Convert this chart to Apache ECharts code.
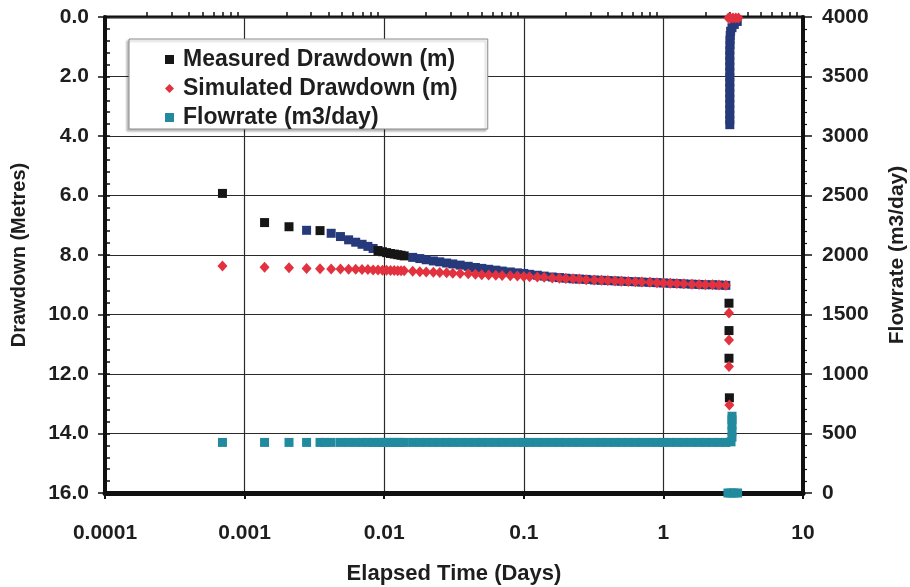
<!DOCTYPE html>
<html><head><meta charset="utf-8">
<script src="https://cdn.jsdelivr.net/npm/echarts@6/dist/echarts.min.js"></script>
<style>html,body{margin:0;padding:0;background:#fff}#c{width:910px;height:587px}</style>
</head><body><div id="c"></div><script>
// ---- tick labels ----
const xTickValues = [0.0001, 0.001, 0.01, 0.1, 1, 10];
const xTickLabels = ['0.0001', '0.001', '0.01', '0.1', '1', '10'];
const xMinorTicks = [0.0002,0.0003,0.0004,0.0005,0.0006,0.0007,0.0008,0.0009,
  0.002,0.003,0.004,0.005,0.006,0.007,0.008,0.009,
  0.02,0.03,0.04,0.05,0.06,0.07,0.08,0.09,
  0.2,0.3,0.4,0.5,0.6,0.7,0.8,0.9,
  2,3,4,5,6,7,8,9];
const leftTickLabels = ['0.0','2.0','4.0','6.0','8.0','10.0','12.0','14.0','16.0'];
const rightTickLabels = ['0','500','1000','1500','2000','2500','3000','3500','4000'];

// ---- series values: [elapsed time (days), value] ----
const measuredBlack = [
  [0.000694,5.93],[0.00139,6.91],[0.00208,7.05],[0.00347,7.18],
  [0.00903,7.85],[0.00972,7.89],[0.0104,7.92],[0.0111,7.95],[0.0118,7.97],[0.0125,7.99],[0.0132,8.01],[0.0139,8.03],
  [2.95,9.62],[2.95,10.54],[2.95,11.47],[2.97,12.8]
];
const measuredNavy = [
  [0.00278,7.17],[0.00417,7.27],[0.00486,7.38],[0.00556,7.49],[0.00625,7.57],[0.00694,7.64],[0.00764,7.71],[0.00833,7.78],
  [0.016,8.08],[0.018,8.12],[0.02,8.16],[0.0225,8.2],[0.025,8.23],[0.028,8.27],[0.031,8.3],[0.035,8.34],[0.04,8.38],
  [0.045,8.42],[0.05,8.45],[0.056,8.48],[0.063,8.51],[0.07,8.54],[0.08,8.57],[0.09,8.6],[0.1,8.62],[0.11,8.65],
  [0.125,8.68],[0.14,8.71],[0.16,8.74],[0.18,8.76],[0.2,8.78],[0.225,8.8],[0.25,8.81],[0.28,8.82],[0.32,8.84],
  [0.36,8.85],[0.4,8.86],[0.45,8.87],[0.5,8.88],[0.56,8.89],[0.63,8.9],[0.7,8.91],[0.8,8.92],[0.9,8.93],[1.0,8.94],
  [1.12,8.95],[1.25,8.96],[1.4,8.97],[1.6,8.98],[1.8,8.99],[2.0,9.0],[2.25,9.0],[2.5,9.01],[2.8,9.02],
  [2.99,3.62],[2.99,3.45],[2.99,3.28],[2.99,3.1],[2.99,2.92],[2.99,2.74],[2.99,2.56],[2.99,2.38],[2.99,2.2],
  [2.99,2.02],[2.99,1.84],[2.99,1.66],[2.99,1.48],[2.99,1.3],[2.99,1.12],[3.0,0.94],[3.0,0.78],[3.01,0.62],
  [3.03,0.48],[3.1,0.36],[3.22,0.25],[3.38,0.15]
];
const simulated = [
  [0.000694,8.37],[0.00139,8.41],[0.00208,8.43],[0.00278,8.45],[0.00347,8.46],[0.00417,8.47],[0.00486,8.47],
  [0.00556,8.48],[0.00625,8.48],[0.00694,8.49],[0.00764,8.49],[0.00833,8.5],[0.00903,8.5],[0.00972,8.51],
  [0.0104,8.51],[0.0111,8.52],[0.0118,8.52],[0.0125,8.53],[0.0132,8.53],[0.0139,8.53],[0.016,8.55],[0.018,8.56],
  [0.02,8.57],[0.0225,8.58],[0.025,8.59],[0.028,8.6],[0.031,8.61],[0.035,8.62],[0.04,8.63],[0.045,8.65],[0.05,8.66],
  [0.056,8.67],[0.063,8.68],[0.07,8.69],[0.08,8.7],[0.09,8.71],[0.1,8.72],[0.11,8.73],[0.125,8.74],[0.14,8.75],
  [0.16,8.77],[0.18,8.78],[0.2,8.79],[0.225,8.8],[0.25,8.81],[0.28,8.83],[0.32,8.84],[0.36,8.85],[0.4,8.86],
  [0.45,8.87],[0.5,8.88],[0.56,8.89],[0.63,8.9],[0.7,8.91],[0.8,8.92],[0.9,8.93],[1.0,8.94],[1.12,8.95],[1.25,8.96],
  [1.4,8.97],[1.6,8.98],[1.8,8.99],[2.0,9.0],[2.25,9.0],[2.5,9.01],[2.8,9.02],
  [2.95,9.95],[2.95,10.86],[2.95,11.75],[2.97,13.04],
  [2.92,0.03],[3.02,0.03],[3.15,0.03],[3.3,0.03],[3.45,0.03]
];
const flowrate = [
  [0.000694,425],[0.00139,425],[0.00208,425],[0.00278,425],[0.00347,425],[0.00375,425],[0.00417,425],[0.00486,425],
  [0.00556,425],[0.00625,425],[0.00694,425],[0.00764,425],[0.00833,425],[0.00903,425],[0.00972,425],[0.0104,425],
  [0.0111,425],[0.0118,425],[0.0125,425],[0.0132,425],[0.0139,425],[0.016,425],[0.018,425],[0.02,425],[0.0225,425],
  [0.025,425],[0.028,425],[0.031,425],[0.035,425],[0.04,425],[0.045,425],[0.05,425],[0.056,425],[0.063,425],
  [0.07,425],[0.08,425],[0.09,425],[0.1,425],[0.11,425],[0.125,425],[0.14,425],[0.16,425],[0.18,425],[0.2,425],
  [0.225,425],[0.25,425],[0.28,425],[0.32,425],[0.36,425],[0.4,425],[0.45,425],[0.5,425],[0.56,425],[0.63,425],
  [0.7,425],[0.8,425],[0.9,425],[1.0,425],[1.12,425],[1.25,425],[1.4,425],[1.6,425],[1.8,425],[2.0,425],[2.25,425],
  [2.5,425],[2.8,425],[3.05,430],[3.1,470],[3.1,520],[3.1,570],[3.1,615],[3.1,645],
  [2.9,0],[3.05,0],[3.2,0],[3.4,0]
];

const FONT = '"Liberation Sans", Arial, Helvetica, sans-serif';
const TXT = '#1e1e1e';
function xLabel(v) {
  let best = 0;
  for (let i = 0; i < xTickValues.length; i++) {
    if (Math.abs(Math.log10(v) - Math.log10(xTickValues[i])) < Math.abs(Math.log10(v) - Math.log10(xTickValues[best]))) best = i;
  }
  return xTickLabels[best];
}

const chart = echarts.init(document.getElementById('c'), null, {renderer: 'canvas'});
chart.setOption({
  animation: false,
  backgroundColor: '#ffffff',
  grid: {left: 105, right: 107, top: 17, bottom: 94, show: true, borderColor: '#111', borderWidth: 3,
    backgroundColor: 'transparent', containLabel: false, outerBoundsMode: 'none'},
  legend: {
    data: ['Measured Drawdown (m)', 'Simulated Drawdown (m)', 'Flowrate (m3/day)'],
    orient: 'vertical', left: 129, top: 39,
    itemWidth: 9, itemHeight: 9, itemGap: 6,
    padding: [9, 30, 0, 36],
    backgroundColor: '#ffffff', borderColor: '#8a8a8a', borderWidth: 1,
    shadowColor: 'rgba(0,0,0,0.25)', shadowBlur: 2, shadowOffsetX: -2, shadowOffsetY: 2,
    textStyle: {fontFamily: FONT, fontSize: 23, fontWeight: 'bold', color: TXT, padding: [0, 0, 0, 4]}
  },
  xAxis: [{
    type: 'log', logBase: 10, min: 0.0001, max: 10, splitNumber: 5, position: 'bottom',
    name: 'Elapsed Time (Days)', nameLocation: 'middle', nameGap: 70,
    nameTextStyle: {fontFamily: FONT, fontSize: 22, fontWeight: 'bold', color: TXT},
    axisLine: {show: true, onZero: false, lineStyle: {color: '#111', width: 5}},
    axisTick: {show: true, inside: false, length: 6, lineStyle: {color: '#111', width: 2}},
    minorTick: {show: false},
    axisLabel: {formatter: xLabel, margin: 30, fontFamily: FONT, fontSize: 21, fontWeight: 'bold', color: TXT},
    splitLine: {show: true, lineStyle: {color: '#2a2a2a', width: 1.2}}
  }, {
    type: 'log', logBase: 10, min: 0.0001, max: 10, position: 'bottom',
    axisLine: {show: false}, axisLabel: {show: false}, splitLine: {show: false},
    axisTick: {show: true, inside: true, length: 5, customValues: xMinorTicks, lineStyle: {color: '#111', width: 1.5}}
  }],
  yAxis: [{
    type: 'value', position: 'left', inverse: true, min: 0, max: 16, interval: 2,
    name: 'Drawdown (Metres)', nameLocation: 'middle', nameGap: 76, nameRotate: 90,
    nameTextStyle: {fontFamily: FONT, fontSize: 20, fontWeight: 'bold', color: TXT},
    axisLine: {show: true, onZero: false, lineStyle: {color: '#111', width: 4}},
    axisTick: {show: true, inside: false, length: 7, lineStyle: {color: '#111', width: 1.5}},
    axisLabel: {formatter: (v) => leftTickLabels[Math.round(v / 2)], margin: 16, padding: [7, 0, 0, 0], fontFamily: FONT, fontSize: 21, fontWeight: 'bold', color: TXT},
    splitLine: {show: true, lineStyle: {color: '#2a2a2a', width: 1.2}}
  }, {
    type: 'value', position: 'right', min: 0, max: 4000, interval: 500,
    name: 'Flowrate (m3/day)', nameLocation: 'middle', nameGap: 84, nameRotate: 90,
    nameTextStyle: {fontFamily: FONT, fontSize: 21, fontWeight: 'bold', color: TXT},
    axisLine: {show: true, onZero: false, lineStyle: {color: '#111', width: 4}},
    axisTick: {show: true, inside: false, length: 9, lineStyle: {color: '#111', width: 1.5}},
    minorTick: {show: true, splitNumber: 5, length: 4, lineStyle: {color: '#111', width: 1.2}},
    axisLabel: {formatter: (v) => rightTickLabels[Math.round(v / 500)], margin: 19, padding: [7, 0, 0, 0], fontFamily: FONT, fontSize: 21, fontWeight: 'bold', color: TXT},
    splitLine: {show: false}
  }, {
    type: 'value', position: 'left', inverse: true, min: 0, max: 16, interval: 0.4,
    axisLine: {show: false}, axisLabel: {show: false}, splitLine: {show: false},
    axisTick: {show: true, inside: true, length: 5, lineStyle: {color: '#111', width: 1.5}}
  }],
  series: [{
    name: 'measured-late', type: 'scatter', xAxisIndex: 0, yAxisIndex: 0,
    data: measuredNavy, symbol: 'rect', symbolSize: 9, itemStyle: {color: '#26397a', opacity: 1}
  }, {
    name: 'Measured Drawdown (m)', type: 'scatter', xAxisIndex: 0, yAxisIndex: 0,
    data: measuredBlack, symbol: 'rect', symbolSize: 9, itemStyle: {color: '#161616', opacity: 1}
  }, {
    name: 'Simulated Drawdown (m)', type: 'scatter', xAxisIndex: 0, yAxisIndex: 0,
    data: simulated, symbol: 'diamond', symbolSize: [10, 11], itemStyle: {color: '#e3323f', opacity: 1}
  }, {
    name: 'Flowrate (m3/day)', type: 'scatter', xAxisIndex: 0, yAxisIndex: 1,
    data: flowrate, symbol: 'rect', symbolSize: 9, itemStyle: {color: '#218a9e', opacity: 1}
  }]
});
</script></body></html>
